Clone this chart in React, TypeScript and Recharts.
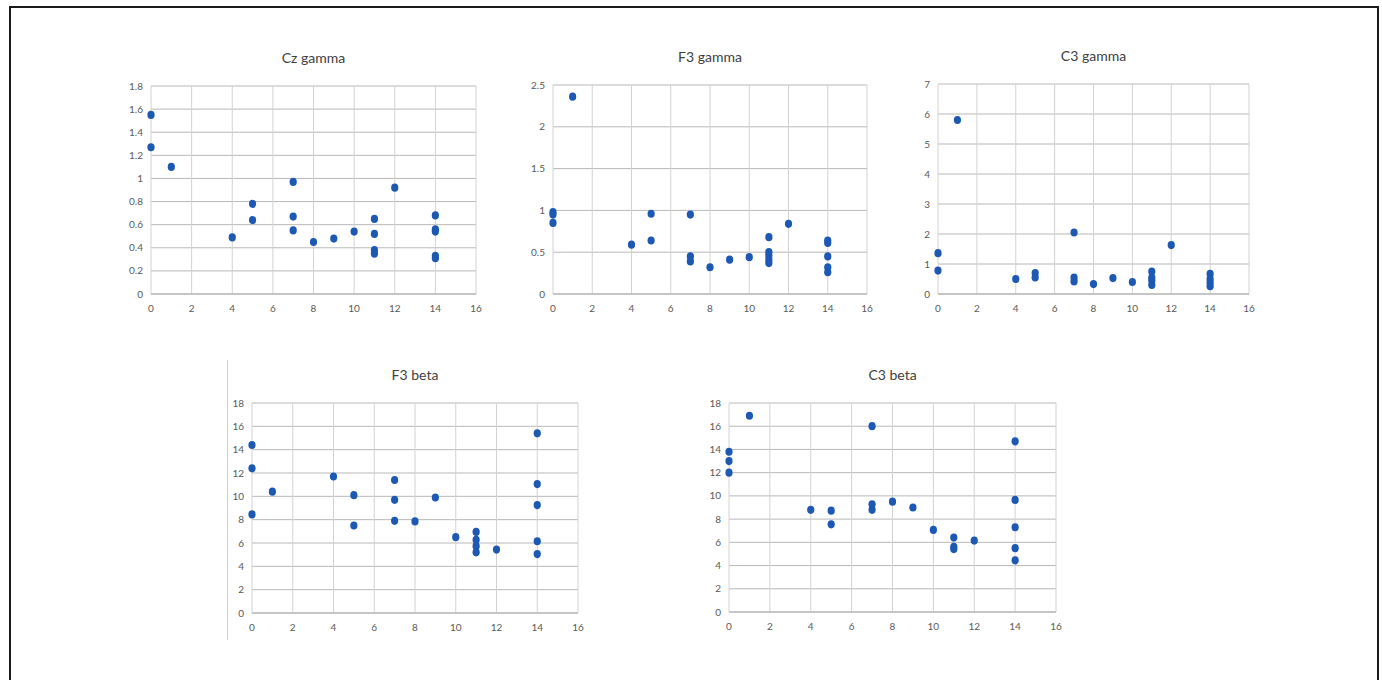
import React from 'react';
import { CartesianGrid, Scatter, ScatterChart, XAxis, YAxis } from 'recharts';

// x = time point, y = band power
const czGamma: [number, number][] = [
  [0, 1.55], [0, 1.27], [1, 1.1], [4, 0.49], [5, 0.78], [5, 0.64],
  [7, 0.97], [7, 0.67], [7, 0.55], [8, 0.45], [9, 0.48], [10, 0.54],
  [11, 0.65], [11, 0.52], [11, 0.38], [11, 0.35], [12, 0.92],
  [14, 0.68], [14, 0.56], [14, 0.54], [14, 0.33], [14, 0.31],
];
const f3Gamma: [number, number][] = [
  [0, 0.98], [0, 0.95], [0, 0.85], [1, 2.36], [4, 0.59], [5, 0.96], [5, 0.64],
  [7, 0.95], [7, 0.45], [7, 0.39], [8, 0.32], [9, 0.41], [10, 0.44],
  [11, 0.68], [11, 0.5], [11, 0.46], [11, 0.41], [11, 0.37], [12, 0.84],
  [14, 0.64], [14, 0.61], [14, 0.45], [14, 0.32], [14, 0.26],
];
const c3Gamma: [number, number][] = [
  [0, 1.36], [0, 0.78], [1, 5.8], [4, 0.5], [5, 0.7], [5, 0.55],
  [7, 2.05], [7, 0.55], [7, 0.42], [8, 0.33], [9, 0.53], [10, 0.4],
  [11, 0.75], [11, 0.55], [11, 0.45], [11, 0.3], [12, 1.63],
  [14, 0.67], [14, 0.5], [14, 0.38], [14, 0.26],
];
const f3Beta: [number, number][] = [
  [0, 14.4], [0, 12.4], [0, 8.45], [1, 10.4], [4, 11.7], [5, 10.1], [5, 7.5],
  [7, 11.4], [7, 9.7], [7, 7.9], [8, 7.85], [9, 9.9], [10, 6.5],
  [11, 6.95], [11, 6.27], [11, 5.73], [11, 5.2], [12, 5.44],
  [14, 15.4], [14, 11.05], [14, 9.25], [14, 6.15], [14, 5.05],
];
const c3Beta: [number, number][] = [
  [0, 13.8], [0, 13.0], [0, 12.0], [1, 16.9], [4, 8.8], [5, 8.73], [5, 7.55],
  [7, 16.0], [7, 9.27], [7, 8.8], [8, 9.5], [9, 9.0], [10, 7.07],
  [11, 6.41], [11, 5.61], [11, 5.42], [12, 6.15],
  [14, 14.7], [14, 9.65], [14, 7.3], [14, 5.5], [14, 4.45],
];

const xTicks = [0, 2, 4, 6, 8, 10, 12, 14, 16];
const czTicks = [0, 0.2, 0.4, 0.6, 0.8, 1, 1.2, 1.4, 1.6, 1.8];
const f3GammaTicks = [0, 0.5, 1, 1.5, 2, 2.5];
const c3GammaTicks = [0, 1, 2, 3, 4, 5, 6, 7];
const betaTicks = [0, 2, 4, 6, 8, 10, 12, 14, 16, 18];

const DOT = '#1d58b3';
const FONT = 'Lato, "Open Sans", sans-serif';

const Dot = (props: any) => (
  <ellipse cx={props.cx} cy={props.cy} rx={3.6} ry={4.1} fill={DOT} />
);

interface PanelProps {
  title: string;
  points: [number, number][];
  yTicks: number[];
  left: number;
  top: number;
  width: number;
  height: number;
}

function Panel({ title, points, yTicks, left, top, width, height }: PanelProps) {
  const data = points.map(([x, y]) => ({ x, y }));
  const yMax = yTicks[yTicks.length - 1];
  const tick = { fontSize: 10, fill: '#595959', fontFamily: FONT };
  return (
    <div style={{ position: 'absolute', left, top, width, height }}>
      <div
        style={{
          position: 'absolute',
          left: 40,
          right: 10,
          top: -27,
          textAlign: 'center',
          fontSize: 14,
          color: '#404040',
          fontFamily: FONT,
        }}
      >
        {title}
      </div>
      <ScatterChart width={width} height={height} margin={{ top: 10, right: 10, left: 0, bottom: 0 }}>
        <CartesianGrid stroke="#b8b8b8" vertical={false} />
        <CartesianGrid stroke="#d2d2d2" horizontal={false} />
        <XAxis
          type="number"
          dataKey="x"
          domain={[0, 16]}
          ticks={xTicks}
          interval={0}
          height={24}
          tick={tick}
          tickLine={false}
          tickSize={9}
          axisLine={{ stroke: '#b0b0b0' }}
        />
        <YAxis
          type="number"
          dataKey="y"
          domain={[0, yMax]}
          ticks={yTicks}
          interval={0}
          width={40}
          tick={tick}
          tickLine={false}
          axisLine={false}
        />
        <Scatter data={data} shape={Dot} isAnimationActive={false} />
      </ScatterChart>
    </div>
  );
}

export default function App() {
  return (
    <div
      style={{
        position: 'absolute',
        left: 0,
        top: 0,
        width: 1382,
        height: 680,
        overflow: 'hidden',
        background: '#fff',
      }}
    >
      <div
        style={{
          position: 'absolute',
          left: 9,
          top: 6,
          width: 1366,
          height: 700,
          border: '2px solid #1a1a1a',
        }}
      />
      <div style={{ position: 'absolute', left: 227, top: 360, width: 1, height: 280, background: '#d0d0d0' }} />
      <Panel title="Cz gamma" points={czGamma} yTicks={czTicks} left={111} top={76} width={375} height={242} />
      <Panel title="F3 gamma" points={f3Gamma} yTicks={f3GammaTicks} left={513} top={75} width={364} height={243} />
      <Panel title="C3 gamma" points={c3Gamma} yTicks={c3GammaTicks} left={898} top={74} width={361} height={244} />
      <Panel title="F3 beta" points={f3Beta} yTicks={betaTicks} left={212} top={393} width={376} height={244} />
      <Panel title="C3 beta" points={c3Beta} yTicks={betaTicks} left={689} top={393} width={377} height={243} />
    </div>
  );
}
